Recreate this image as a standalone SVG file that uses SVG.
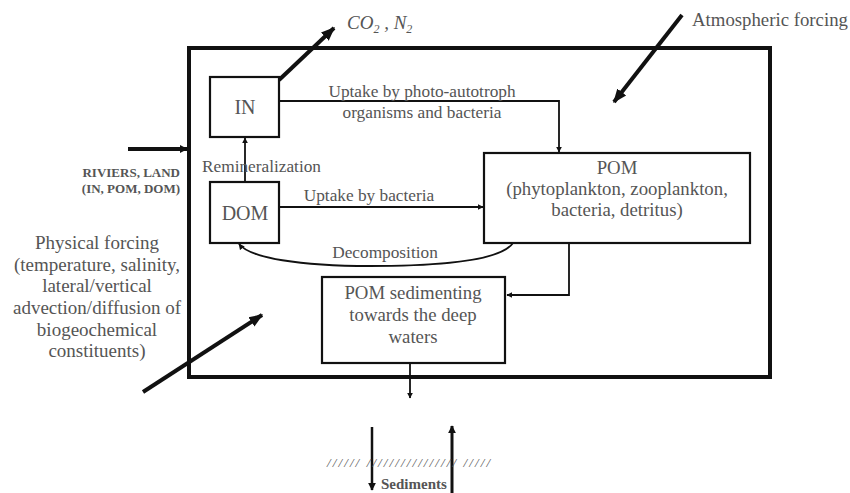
<svg xmlns="http://www.w3.org/2000/svg" width="850" height="493" viewBox="0 0 850 493">
<style>
text{font-family:"Liberation Serif","Times New Roman",serif;fill:#555;}
.lbl{font-size:17.3px;}
.bx{font-size:18.8px;}
.phy{font-size:19px;}
.box{fill:#fff;stroke:#111;stroke-width:2.2;}
.thin{fill:none;stroke:#111;stroke-width:1.8;}
.thick{fill:none;stroke:#111;stroke-width:4;}
</style>
<defs>
<marker id="a" viewBox="0 0 10 10" refX="9" refY="5" markerWidth="6" markerHeight="6" orient="auto" markerUnits="userSpaceOnUse">
<path d="M0,0 L10,5 L0,10 z" fill="#111"/>
</marker>
<marker id="b" viewBox="0 0 10 10" refX="9" refY="5" markerWidth="14" markerHeight="14" orient="auto" markerUnits="userSpaceOnUse">
<path d="M0,1 L10,5 L0,9 z" fill="#111"/>
</marker>
<marker id="c" viewBox="0 0 10 10" refX="9" refY="5" markerWidth="8" markerHeight="8" orient="auto" markerUnits="userSpaceOnUse">
<path d="M0,0 L10,5 L0,10 z" fill="#111"/>
</marker>
</defs>
<rect width="850" height="493" fill="#fff"/>
<g id="system">
<rect x="189" y="48" width="581" height="329" fill="none" stroke="#111" stroke-width="4"/>
</g>
<g id="connectors">
<line class="thick" x1="279" y1="80" x2="334" y2="28" marker-end="url(#b)"/>
<line class="thick" x1="682" y1="15" x2="614" y2="102" marker-end="url(#b)"/>
<line class="thick" x1="128" y1="149" x2="187" y2="149" marker-end="url(#c)"/>
<line class="thick" x1="143" y1="392" x2="262" y2="315" marker-end="url(#b)"/>
<line class="thin" x1="245" y1="182" x2="245" y2="138" marker-end="url(#a)"/>
<polyline class="thin" points="279,101 559,101 559,152" marker-end="url(#a)"/>
<line class="thin" x1="279" y1="207" x2="483" y2="207" marker-end="url(#a)"/>
<path class="thin" d="M513,243 C500,262 430,266 370,266 C300,266 250,258 239,244" marker-end="url(#a)"/>
<polyline class="thin" points="569,243 569,295 507,295" marker-end="url(#a)"/>
<line class="thin" x1="410" y1="363" x2="410" y2="398" marker-end="url(#a)"/>
<line x1="372" y1="427" x2="372" y2="490" stroke="#111" stroke-width="2.5" marker-end="url(#c)"/>
<line x1="452" y1="493" x2="452" y2="426" stroke="#111" stroke-width="3" marker-end="url(#c)"/>
</g>
<g id="IN">
<rect class="box" x="210" y="77" width="69" height="60"/>
<text x="245" y="114" font-size="20" text-anchor="middle">IN</text>
</g>
<g id="DOM">
<rect class="box" x="210" y="182" width="69" height="61"/>
<text x="245" y="220" font-size="20" text-anchor="middle">DOM</text>
</g>
<g id="POM">
<rect class="box" x="484" y="153" width="266" height="90"/>
<text class="bx" x="617" y="174" text-anchor="middle">POM</text>
<text class="bx" x="617" y="195" text-anchor="middle">(phytoplankton, zooplankton,</text>
<text class="bx" x="617" y="216" text-anchor="middle">bacteria, detritus)</text>
</g>
<g id="POMsed">
<rect class="box" x="322" y="277" width="183" height="86"/>
<text class="bx" x="413" y="299" text-anchor="middle">POM sedimenting</text>
<text class="bx" x="413" y="321" text-anchor="middle">towards the deep</text>
<text class="bx" x="413" y="343" text-anchor="middle">waters</text>
</g>
<g id="labels">
<text x="347" y="29" font-size="19" font-style="italic">CO<tspan font-size="12" dy="4">2</tspan><tspan dy="-4"> , N</tspan><tspan font-size="12" dy="4">2</tspan></text>
<text x="692" y="26" font-size="18.8">Atmospheric forcing</text>
<text x="180" y="177" font-size="13" font-weight="bold" text-anchor="end">RIVIERS, LAND</text>
<text x="180" y="193" font-size="13" font-weight="bold" text-anchor="end">(IN, POM, DOM)</text>
<text class="phy" x="97" y="249" text-anchor="middle">Physical forcing</text>
<text class="phy" x="97" y="271" text-anchor="middle">(temperature, salinity,</text>
<text class="phy" x="97" y="292" text-anchor="middle">lateral/vertical</text>
<text class="phy" x="97" y="314" text-anchor="middle">advection/diffusion of</text>
<text class="phy" x="97" y="336" text-anchor="middle">biogeochemical</text>
<text class="phy" x="97" y="357" text-anchor="middle">constituents)</text>
<text class="lbl" x="202" y="172">Remineralization</text>
<text class="lbl" x="422" y="97" text-anchor="middle">Uptake by photo-autotroph</text>
<text class="lbl" x="422" y="118" text-anchor="middle">organisms and bacteria</text>
<text class="lbl" x="369" y="201" text-anchor="middle">Uptake by bacteria</text>
<text class="lbl" x="385" y="258" text-anchor="middle">Decomposition</text>
<text x="327" y="467" font-size="13" font-style="italic" fill="#888" textLength="163" lengthAdjust="spacing">////// //////////////// /////</text>
<text x="381" y="489" font-size="15" font-weight="bold">Sediments</text>
</g>
</svg>
